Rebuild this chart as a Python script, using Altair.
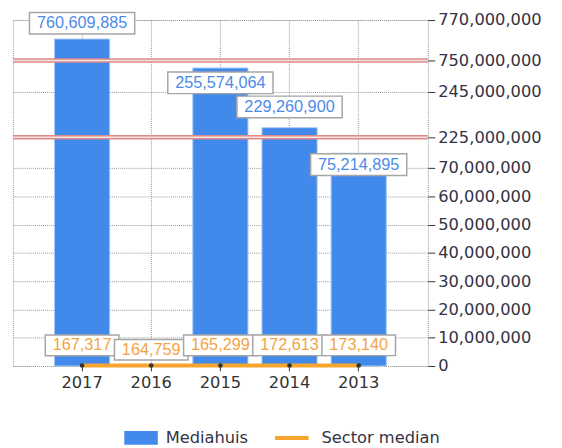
import altair as alt
import pandas as pd

# ---- data ----
years = ["2017", "2016", "2015", "2014", "2013"]
mediahuis = [760609885, None, 255574064, 229260900, 75214895]
sector_median = [167317, 164759, 165299, 172613, 173140]
y_tick_values = [0, 10000000, 20000000, 30000000, 40000000, 50000000, 60000000,
                 70000000, 225000000, 245000000, 750000000, 770000000]
axis_breaks = [225000000, 750000000]

# ---- layout / style ----
W, H = 421, 351
# broken (piecewise-linear) value axis
Y_DOMAIN = [0, 80840000, 225000000, 258900000, 750000000, 770000000]
Y_RANGE = [351, 119, 119, 41, 41, 0]
AX_FONT = "DejaVu Sans"
LBL_FONT = "Liberation Sans"
LBL_FS = 16.5
BLUE = "#4289EC"
ORANGE = "#F5A52D"
GRID = "#9a9a9a"

mh_dy = {"2017": -16, "2015": 15, "2014": -21, "2013": 11.5}
md_dy = {"2017": -20.5, "2016": -16, "2015": -20.5, "2014": -20.5, "2013": -20.5}


def text_width(s):
    return sum(0.278 if c == "," else 0.556 for c in s) * LBL_FS


def box_path(s, h=22):
    a = (text_width(s) + 15) / 2 / 50
    b = h / 2 / 50
    return f"M{-a:.4f},{-b:.4f}H{a:.4f}V{b:.4f}H{-a:.4f}Z"


df = pd.DataFrame({"year": years, "mediahuis": mediahuis, "median": sector_median})
df["mh_series"] = "Mediahuis"
df["md_series"] = "Sector median"
df["mh_label"] = [f"{int(v):,}" if pd.notna(v) else "" for v in df["mediahuis"]]
df["md_label"] = [f"{int(v):,}" for v in df["median"]]
df["mh_box"] = [box_path(s, 22) for s in df["mh_label"]]
df["md_box"] = [box_path(s, 21) for s in df["md_label"]]

x_axis = alt.Axis(title=None, labelAngle=0, grid=True, gridColor=GRID, gridDash=[1, 1],
                  domain=False, tickColor="#333333", tickSize=5, labelPadding=4,
                  labelFont=AX_FONT, labelFontSize=16.5, labelColor="#333333",
                  tickBand="center")
x_scale = alt.Scale(domain=years, paddingInner=0.202, paddingOuter=0.601)
X = alt.X("year:N", scale=x_scale, axis=x_axis)

y_axis = alt.Axis(title=None, orient="right", values=y_tick_values, format=",d",
                  grid=True, gridColor=GRID, gridDash=[1, 1], domain=False,
                  tickColor="#333333", tickSize=7, labelPadding=3, labelOverlap=False,
                  labelFont=AX_FONT, labelFontSize=16.5, labelColor="#333344")
y_scale = alt.Scale(type="linear", domain=Y_DOMAIN, range=Y_RANGE, nice=False, zero=False)


def Y(field):
    return alt.Y(f"{field}:Q", scale=y_scale, axis=y_axis)


bars = alt.Chart(df).mark_bar(stroke="#a9c9f6", strokeWidth=1).encode(
    x=X, y=Y("mediahuis"),
    fill=alt.Fill("mh_series:N",
                  scale=alt.Scale(domain=["Mediahuis"], range=[BLUE]),
                  legend=alt.Legend(title=None, orient="none", legendX=113, legendY=407,
                                    symbolType="M-1,-0.41H1V0.41H-1Z", symbolSize=1156,
                                    symbolStrokeWidth=0, labelOffset=8)),
)

brk = alt.Chart(pd.DataFrame({"v": axis_breaks}))
brk_outer = brk.mark_rule(color="#dc8a8a", strokeWidth=4.5).encode(y=Y("v"))
brk_inner = brk.mark_rule(color="#f7e2e2", strokeWidth=1.5).encode(y=Y("v"))

line = alt.Chart(df).mark_line(strokeWidth=4).encode(
    x=X, y=Y("median"),
    stroke=alt.Stroke("md_series:N",
                      scale=alt.Scale(domain=["Sector median"], range=[ORANGE]),
                      legend=alt.Legend(title=None, orient="none", legendX=266, legendY=407,
                                        symbolType="M-1,-0.12H1V0.12H-1Z", symbolSize=1156,
                                        symbolFillColor=ORANGE, symbolStrokeWidth=0,
                                        labelOffset=13)),
)
pts = alt.Chart(df).mark_point(filled=True, size=22, opacity=1, color="#333333").encode(
    x=X, y=Y("median"))

label_layers = []
for yr in years:
    if yr in mh_dy:
        c = alt.Chart(df).transform_filter(alt.datum.year == yr)
        label_layers.append(
            c.mark_point(filled=True, fill="white", stroke="#a5a5a5", strokeWidth=1.5,
                         size=10000, opacity=1, yOffset=mh_dy[yr]).encode(
                x=X, y=Y("mediahuis"),
                shape=alt.Shape("mh_box:N", scale=None, legend=None)))
        label_layers.append(
            c.mark_text(font=LBL_FONT, fontSize=LBL_FS, color="#4d8ae8", dy=mh_dy[yr],
                        align="center", baseline="middle").encode(
                x=X, y=Y("mediahuis"), text="mh_label:N"))
for yr in years:
    c = alt.Chart(df).transform_filter(alt.datum.year == yr)
    label_layers.append(
        c.mark_point(filled=True, fill="white", stroke="#a5a5a5", strokeWidth=1.5,
                     size=10000, opacity=1, yOffset=md_dy[yr]).encode(
            x=X, y=Y("median"),
            shape=alt.Shape("md_box:N", scale=None, legend=None)))
    label_layers.append(
        c.mark_text(font=LBL_FONT, fontSize=LBL_FS, color="#F2A444", dy=md_dy[yr],
                    align="center", baseline="middle").encode(
            x=X, y=Y("median"), text="md_label:N"))

chart = alt.layer(bars, brk_outer, brk_inner, line, pts, *label_layers).properties(
    width=W, height=H,
    padding={"left": 5, "top": 9, "right": 128, "bottom": 80},
    autosize=alt.AutoSizeParams(type="none"),
    background="white",
).configure_view(stroke=GRID, strokeDash=[1, 1]).configure_legend(
    labelFont=AX_FONT, labelFontSize=16.5, labelColor="#333344", padding=0)

chart.save("out.html", embed_options={"renderer": "svg", "actions": False})
